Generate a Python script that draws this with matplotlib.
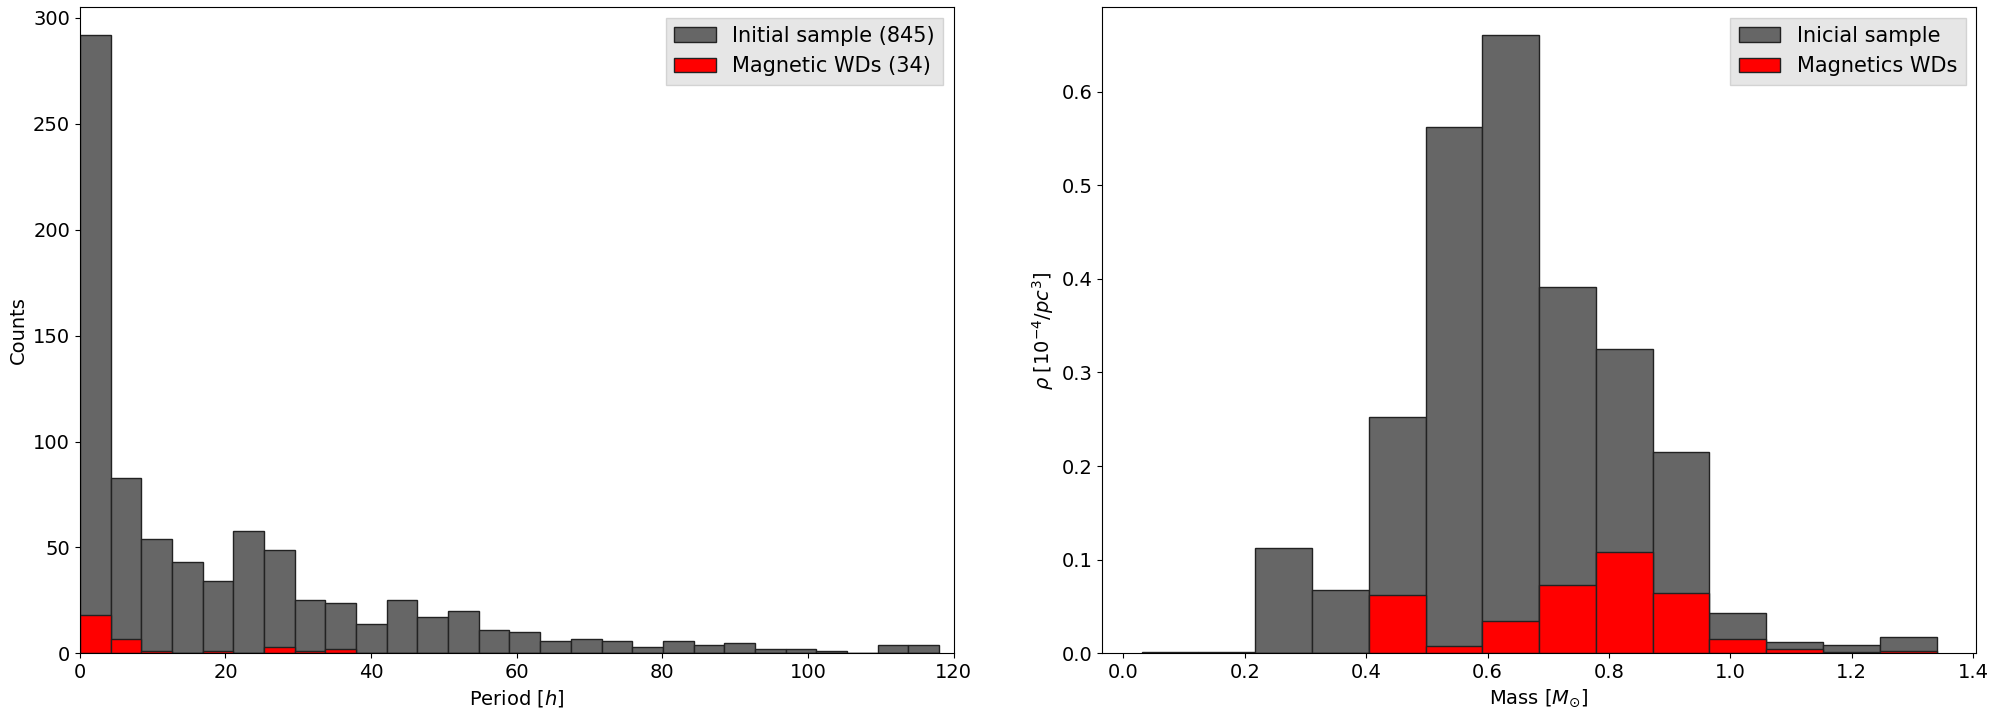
import numpy as np
from matplotlib import pyplot as plt

# Period histogram (left)
period_edges = np.linspace(0, 118, 29)
period_all = [292, 83, 54, 43, 34, 58, 49, 25, 24, 14, 25, 17, 20, 11,
              10, 6, 7, 6, 3, 6, 4, 5, 2, 2, 1, 0, 4, 4]
period_mag = [18, 7, 1, 0, 1, 0, 3, 1, 2, 0, 0, 0, 0, 0,
              0, 0, 0, 0, 0, 0, 0, 0, 0, 0, 0, 0, 0, 0]

# Mass density histogram (right)
mass_edges = np.linspace(0.03, 1.34, 15)
mass_all = [0.001, 0.002, 0.113, 0.068, 0.252, 0.562, 0.66, 0.391,
            0.325, 0.215, 0.043, 0.012, 0.009, 0.017]
mass_mag = [0, 0, 0, 0, 0.062, 0.008, 0.035, 0.073,
            0.108, 0.065, 0.015, 0.005, 0.002, 0.003]

plt.rcParams['font.size'] = 14
fig, (ax1, ax2) = plt.subplots(1, 2, figsize=(19.96, 7.26), dpi=100)

def hist(ax, edges, vals, **kw):
    ax.bar(edges[:-1], vals, width=np.diff(edges), align='edge',
           edgecolor='#222222', linewidth=1.0, **kw)

hist(ax1, period_edges, period_all, color='#666666', label='Initial sample (845)')
hist(ax1, period_edges, period_mag, color='red', label='Magnetic WDs (34)')
ax1.set_xlim(0, 120)
ax1.set_ylim(0, 305)
ax1.set_xlabel('Period [$h$]')
ax1.set_ylabel('Counts')

hist(ax2, mass_edges, mass_all, color='#666666', label='Inicial sample')
hist(ax2, mass_edges, mass_mag, color='red', label='Magnetics WDs')
ax2.set_xlim(-0.035, 1.405)
ax2.set_ylim(0, 0.69)
ax2.set_xlabel(r'Mass [$M_{\odot}$]')
ax2.set_ylabel(r'$\rho\;[10^{-4}/pc^{3}]$')

for ax in (ax1, ax2):
    leg = ax.legend(loc='upper right', fontsize=15, fancybox=False)
    leg.get_frame().set_facecolor('#e0e0e0')
    leg.get_frame().set_edgecolor('#cccccc')

fig.subplots_adjust(left=0.04, right=0.99, bottom=0.1, top=0.99, wspace=0.17)
fig.savefig('out.png')
